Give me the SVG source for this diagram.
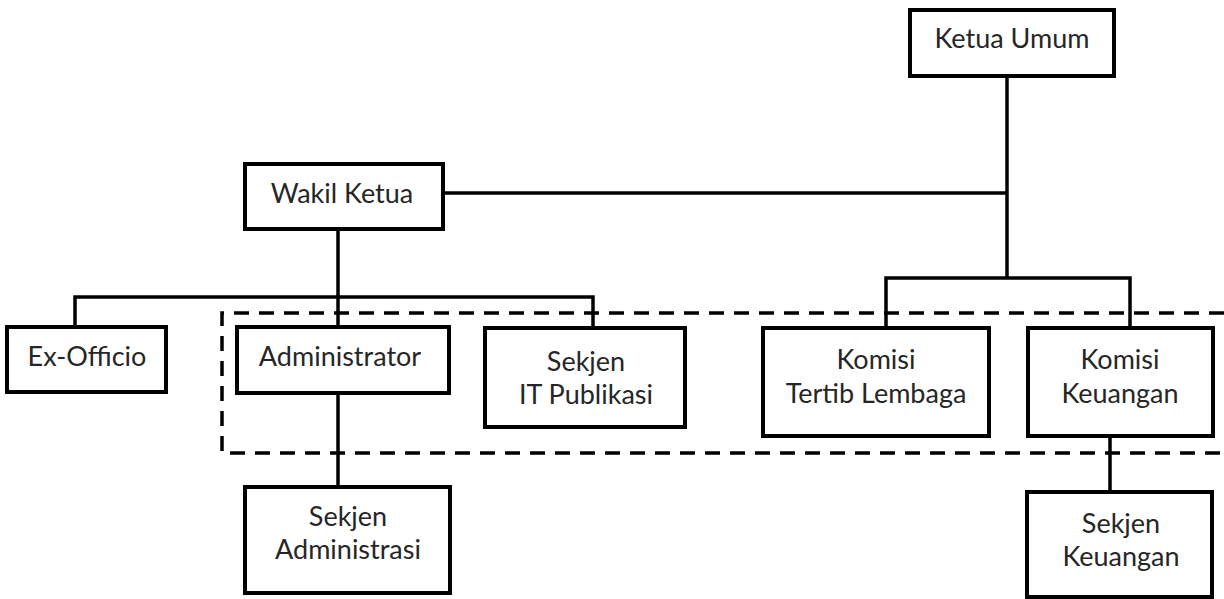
<svg xmlns="http://www.w3.org/2000/svg" width="1224" height="599" viewBox="0 0 1224 599">
<style>
.box{fill:#fff;stroke:#000;stroke-width:4}
.ln{fill:none;stroke:#000;stroke-width:3.5}
.dash{fill:none;stroke:#000;stroke-width:3.5;stroke-dasharray:15 10}
.t{font-family:Lato,"Liberation Sans",sans-serif;font-size:27px;fill:#262626;text-anchor:middle}
</style>
<rect width="1224" height="599" fill="#fff"/>
<path class="dash" d="M1224,313 H222 V453 H1224"/>
<g id="connectors">
<path class="ln" d="M1007,76 V278"/>
<path class="ln" d="M443,193 H1007"/>
<path class="ln" d="M886,328 V278 H1130 V328"/>
<path class="ln" d="M338,229 V327"/>
<path class="ln" d="M75,327 V297 H593 V328"/>
<path class="ln" d="M338,393 V487"/>
<path class="ln" d="M1110,436 V492"/>
</g>
<g id="ketua-umum"><rect class="box" x="910" y="10" width="204" height="66"/><text class="t" x="1012" y="48">Ketua Umum</text></g>
<g id="wakil-ketua"><rect class="box" x="245" y="164" width="198" height="65"/><text class="t" x="342" y="203">Wakil Ketua</text></g>
<g id="ex-officio"><rect class="box" x="7" y="327" width="159" height="65"/><text class="t" x="87" y="366">Ex-Officio</text></g>
<g id="administrator"><rect class="box" x="237" y="327" width="212" height="66"/><text class="t" x="340" y="366">Administrator</text></g>
<g id="sekjen-it"><rect class="box" x="485" y="328" width="200" height="99"/><text class="t" x="586" y="371">Sekjen</text><text class="t" x="586" y="404">IT Publikasi</text></g>
<g id="komisi-tertib"><rect class="box" x="763" y="328" width="226" height="108"/><text class="t" x="876" y="369">Komisi</text><text class="t" x="876" y="403">Tertib Lembaga</text></g>
<g id="komisi-keuangan"><rect class="box" x="1028" y="328" width="185" height="108"/><text class="t" x="1120" y="369">Komisi</text><text class="t" x="1120" y="403">Keuangan</text></g>
<g id="sekjen-administrasi"><rect class="box" x="245" y="487" width="205" height="106"/><text class="t" x="348" y="526">Sekjen</text><text class="t" x="348" y="559">Administrasi</text></g>
<g id="sekjen-keuangan"><rect class="box" x="1027" y="492" width="185" height="105"/><text class="t" x="1121" y="533">Sekjen</text><text class="t" x="1121" y="566">Keuangan</text></g>
</svg>
